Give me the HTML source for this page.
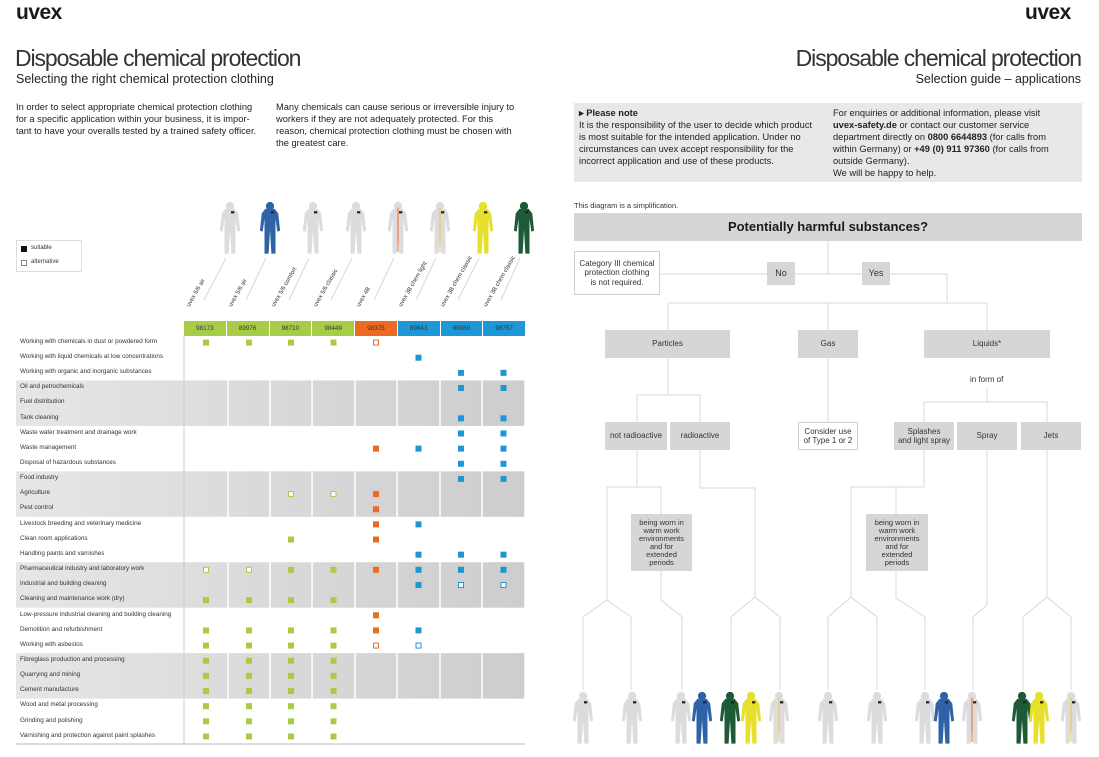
<!DOCTYPE html>
<html><head><meta charset="utf-8">
<style>
*{margin:0;padding:0;box-sizing:border-box}
body{width:1099px;height:757px;position:relative;background:#fff;font-family:"Liberation Sans",sans-serif;color:#222;overflow:hidden}
.a{position:absolute;white-space:nowrap}
.logo{font-weight:bold;font-size:21px;letter-spacing:-0.5px;color:#1a1a1a}
.t1{font-size:23px;font-weight:300;letter-spacing:-1.1px;color:#333}
.t2{font-size:12.5px;color:#222}
.p{font-size:9.3px;line-height:12px;color:#222}
.rl{font-size:6.3px;color:#333;left:20px}
.box{position:absolute;background:#d6d6d6;font-size:8px;color:#333;display:flex;align-items:center;justify-content:center;text-align:center;line-height:9.5px}
.wb{background:#fff;border:1px solid #cfcfcf}
</style></head><body>
<div class="a logo" style="left:16px;top:1px">uvex</div>
<div class="a logo" style="left:1025px;top:1px">uvex</div>
<div class="a t1" style="left:15px;top:45px">Disposable chemical protection</div>
<div class="a t2" style="left:16px;top:72px">Selecting the right chemical protection clothing</div>
<div class="a p" style="left:16px;top:101px">In order to select appropriate chemical protection clothing<br>for a specific application within your business, it is impor-<br>tant to have your overalls tested by a trained safety officer.</div>
<div class="a p" style="left:276px;top:101px">Many chemicals can cause serious or irreversible injury to<br>workers if they are not adequately protected. For this<br>reason, chemical protection clothing must be chosen with<br>the greatest care.</div>
<div class="a t1" style="right:18px;top:45px">Disposable chemical protection</div>
<div class="a t2" style="right:18px;top:72px">Selection guide – applications</div>
<div class="a" style="left:574px;top:103px;width:508px;height:79px;background:#e8e8e8"></div>
<div class="a p" style="left:579px;top:107px"><b>▸ Please note</b><br>It is the responsibility of the user to decide which product<br>is most suitable for the intended application. Under no<br>circumstances can uvex accept responsibility for the<br>incorrect application and use of these products.</div>
<div class="a p" style="left:833px;top:107px">For enquiries or additional information, please visit<br><b>uvex-safety.de</b> or contact our customer service<br>department directly on <b>0800 6644893</b> (for calls from<br>within Germany) or <b>+49 (0) 911 97360</b> (for calls from<br>outside Germany).<br>We will be happy to help.</div>
<div class="a" style="left:574px;top:201px;font-size:7.5px;color:#333">This diagram is a simplification.</div>

<svg class="a" style="left:0;top:0" width="1099" height="757" id="sv">
<defs>
<linearGradient id="gr" x1="0" x2="1"><stop offset="0" stop-color="#e6e6e6"/><stop offset="1" stop-color="#cdcdcd"/></linearGradient>
<symbol id="cv" viewBox="0 0 24 60"><circle cx="12" cy="6" r="4.5"/><path d="M7 9 L17 9 L21 14 L23 33 L20 34 L18 20 L18 58 L13.5 58 L12 32 L10.5 58 L6 58 L6 20 L4 34 L1 33 L3 14 Z"/></symbol>
</defs>
<g id="g"></g>
</svg>

<div class="a" style="left:16px;top:240px;width:66px;height:32px;border:1px solid #ddd;font-size:6px;color:#333">
<div style="position:absolute;left:4px;top:5px;width:6px;height:6px;background:#111"></div><div style="position:absolute;left:14px;top:4px">suitable</div>
<div style="position:absolute;left:4px;top:19px;width:6px;height:6px;border:1px solid #888"></div><div style="position:absolute;left:14px;top:18px">alternative</div>
</div>

<div class="a rl" style="top:338px">Working with chemicals in dust or powdered form</div>
<div class="a rl" style="top:353px">Working with liquid chemicals at low concentrations</div>
<div class="a rl" style="top:368px">Working with organic and inorganic substances</div>
<div class="a rl" style="top:383px">Oil and petrochemicals</div>
<div class="a rl" style="top:398px">Fuel distribution</div>
<div class="a rl" style="top:414px">Tank cleaning</div>
<div class="a rl" style="top:429px">Waste water treatment and drainage work</div>
<div class="a rl" style="top:444px">Waste management</div>
<div class="a rl" style="top:459px">Disposal of hazardous substances</div>
<div class="a rl" style="top:474px">Food industry</div>
<div class="a rl" style="top:489px">Agriculture</div>
<div class="a rl" style="top:504px">Pest control</div>
<div class="a rl" style="top:520px">Livestock breeding and veterinary medicine</div>
<div class="a rl" style="top:535px">Clean room applications</div>
<div class="a rl" style="top:550px">Handling paints and varnishes</div>
<div class="a rl" style="top:565px">Pharmaceutical industry and laboratory work</div>
<div class="a rl" style="top:580px">Industrial and building cleaning</div>
<div class="a rl" style="top:595px">Cleaning and maintenance work (dry)</div>
<div class="a rl" style="top:611px">Low-pressure industrial cleaning and building cleaning</div>
<div class="a rl" style="top:626px">Demolition and refurbishment</div>
<div class="a rl" style="top:641px">Working with asbestos</div>
<div class="a rl" style="top:656px">Fibreglass production and processing</div>
<div class="a rl" style="top:671px">Quarrying and mining</div>
<div class="a rl" style="top:686px">Cement manufacture</div>
<div class="a rl" style="top:701px">Wood and metal processing</div>
<div class="a rl" style="top:717px">Grinding and polishing</div>
<div class="a rl" style="top:732px">Varnishing and protection against paint splashes</div>

<div class="a" style="left:184px;top:321px;width:341px;height:15px;display:flex;font-size:6.3px;color:#333">
<div style="flex:1;background:#a8cc48;display:flex;align-items:center;justify-content:center;border-right:1px solid #fff">98173</div>
<div style="flex:1;background:#a8cc48;display:flex;align-items:center;justify-content:center;border-right:1px solid #fff">89976</div>
<div style="flex:1;background:#a8cc48;display:flex;align-items:center;justify-content:center;border-right:1px solid #fff">98710</div>
<div style="flex:1;background:#a8cc48;display:flex;align-items:center;justify-content:center;border-right:1px solid #fff">98449</div>
<div style="flex:1;background:#ec6a24;display:flex;align-items:center;justify-content:center;border-right:1px solid #fff">98375</div>
<div style="flex:1;background:#1d97d6;display:flex;align-items:center;justify-content:center;border-right:1px solid #fff">89843</div>
<div style="flex:1;background:#1d97d6;display:flex;align-items:center;justify-content:center;border-right:1px solid #fff">89880</div>
<div style="flex:1;background:#1d97d6;display:flex;align-items:center;justify-content:center">98757</div>
</div>

<div class="a" style="left:186px;top:305px;font-size:6px;color:#333;transform:rotate(-60deg);transform-origin:0 0">uvex 5/6 air</div>
<div class="a" style="left:228px;top:305px;font-size:6px;color:#333;transform:rotate(-60deg);transform-origin:0 0">uvex 5/6 air</div>
<div class="a" style="left:271px;top:305px;font-size:6px;color:#333;transform:rotate(-60deg);transform-origin:0 0">uvex 5/6 comfort</div>
<div class="a" style="left:313px;top:305px;font-size:6px;color:#333;transform:rotate(-60deg);transform-origin:0 0">uvex 5/6 classic</div>
<div class="a" style="left:356px;top:305px;font-size:6px;color:#333;transform:rotate(-60deg);transform-origin:0 0">uvex 4B</div>
<div class="a" style="left:398px;top:305px;font-size:6px;color:#333;transform:rotate(-60deg);transform-origin:0 0">uvex 3B chem light</div>
<div class="a" style="left:440px;top:305px;font-size:6px;color:#333;transform:rotate(-60deg);transform-origin:0 0">uvex 3B chem classic</div>
<div class="a" style="left:483px;top:305px;font-size:6px;color:#333;transform:rotate(-60deg);transform-origin:0 0">uvex 3B chem classic</div>

<div class="box" style="left:574px;top:213px;width:508px;height:28px;font-size:13px;font-weight:bold;color:#1a1a1a">Potentially harmful substances?</div>
<div class="box wb" style="left:574px;top:251px;width:86px;height:44px">Category III chemical<br>protection clothing<br>is not required.</div>
<div class="box" style="left:767px;top:262px;width:28px;height:23px;font-size:9px">No</div>
<div class="box" style="left:862px;top:262px;width:28px;height:23px;font-size:9px">Yes</div>
<div class="box" style="left:605px;top:330px;width:125px;height:28px">Particles</div>
<div class="box" style="left:798px;top:330px;width:60px;height:28px">Gas</div>
<div class="box" style="left:924px;top:330px;width:126px;height:28px">Liquids*</div>
<div class="a" style="left:970px;top:375px;font-size:8px;color:#333">in form of</div>
<div class="box" style="left:605px;top:422px;width:62px;height:28px">not radioactive</div>
<div class="box" style="left:670px;top:422px;width:60px;height:28px">radioactive</div>
<div class="box wb" style="left:798px;top:422px;width:60px;height:28px">Consider use<br>of Type 1 or 2</div>
<div class="box" style="left:894px;top:422px;width:60px;height:28px">Splashes<br>and light spray</div>
<div class="box" style="left:957px;top:422px;width:60px;height:28px">Spray</div>
<div class="box" style="left:1021px;top:422px;width:60px;height:28px">Jets</div>
<div class="box" style="left:631px;top:514px;width:61px;height:57px;line-height:8px;font-size:7.5px">being worn in<br>warm work<br>environments<br>and for<br>extended<br>periods</div>
<div class="box" style="left:866px;top:514px;width:62px;height:57px;line-height:8px;font-size:7.5px">being worn in<br>warm work<br>environments<br>and for<br>extended<br>periods</div>

<script>
(function(){
var g=document.getElementById('g'),h='';
function R(x,y,w,hh,f,s){h+='<rect x="'+x+'" y="'+y+'" width="'+w+'" height="'+hh+'" fill="'+f+'"'+(s?' stroke="'+s+'"':'')+'/>';}
function L(p){h+='<polyline points="'+p+'" fill="none" stroke="#d8d8d8" stroke-width="1"/>';}
var y0=335,pt=15.15;
for(var k=0;k<4;k++){R(16,y0+(3+6*k)*pt,509,3*pt,'url(#gr)');}
var cx=[184,228,270,312,355,397,440,482,525];
for(var i=1;i<9;i++)h+='<line x1="'+cx[i]+'" y1="336" x2="'+cx[i]+'" y2="744" stroke="#fff" stroke-width="1.5"/>';
h+='<line x1="184" y1="336" x2="184" y2="744" stroke="#ccc"/>';
h+='<line x1="16" y1="744" x2="525" y2="744" stroke="#bbb"/>';
var col=['#a8cc48','#a8cc48','#a8cc48','#a8cc48','#ec6a24','#1d97d6','#1d97d6','#1d97d6'];
var D=["ssssa","-----s","------ss","------ss","","------ss","------ss","----ssss","------ss","------ss","--aas","----s","----ss","--s-s","-----sss","aassssss","-----saa","ssss","----s","ssssss","ssssaa","ssss","ssss","ssss","ssss","ssss","ssss"];
for(var r=0;r<27;r++){var yc=y0+r*pt+pt/2;for(var c=0;c<8;c++){var v=D[r].charAt(c);if(!v||v=='-')continue;var x=(cx[c]+cx[c+1])/2;
if(v=='s')R(x-3,yc-3,6,6,col[c]);else R(x-2.5,yc-2.5,5,5,'#fff',col[c]);}}
function C(x,y,w,hh,f,st){h+='<use href="#cv" x="'+(x-w/2)+'" y="'+y+'" width="'+w+'" height="'+hh+'" fill="'+f+'"/>';if(st)h+='<line x1="'+x+'" y1="'+(y+hh*0.16)+'" x2="'+x+'" y2="'+(y+hh*0.9)+'" stroke="'+st+'" stroke-width="1"/>';h+='<rect x="'+(x+1)+'" y="'+(y+hh*0.22)+'" width="'+(w*0.15)+'" height="'+(w*0.1)+'" fill="#222"/>';}
var W='#dcdcde',B='#2f62a6',G='#1e5a36',Y='#e6e02a';
var tops=[[230,W],[270,B],[313,W],[356,W],[398,W,'#ec6a24'],[440,W,'#e6c84a'],[483,Y],[524,G]];
var lx=[190,232,275,317,360,402,444,487];
tops.forEach(function(t,i){L((t[0]-4)+','+258+' '+(lx[i]+14)+','+300);C(t[0],198,22,60,t[1],t[2]);});
var bot=[[583,W],[632,W],[681,W],[702,B],[730,G],[751,Y],[779,W,'#e6c84a'],[828,W],[877,W],[925,W],[944,B],[972,W,'#ec6a24'],[1022,G],[1039,Y],[1071,W,'#e6c84a']];
L('828,241 828,274');L('660,274 767,274');L('795,274 862,274');L('890,274 947,274 947,303');
L('668,303 987,303');L('668,303 668,330');L('828,303 828,330');L('987,303 987,330');
L('668,358 668,395');L('637,422 637,395 700,395 700,422');L('828,358 828,422');
L('987,388 987,402');L('924,422 924,402 1047,402 1047,422');
L('637,450 637,487');L('607,487 661,487');L('607,487 607,600');L('583,617 607,600 631,617');L('583,617 583,690');L('631,617 631,690');
L('661,487 661,514');L('661,571 661,600 682,617 682,690');
L('700,450 700,488 755,488 755,597');L('731,617 755,597 780,617');L('731,617 731,690');L('780,617 780,690');
L('924,450 924,487 851,487 851,597');L('828,617 851,597 877,617');L('828,617 828,690');L('877,617 877,690');
L('896,487 896,514');L('896,571 896,598 925,617 925,690');
L('987,450 987,605 973,617 973,690');
L('1047,450 1047,597');L('1023,617 1047,597 1071,617');L('1023,617 1023,690');L('1071,617 1071,690');
bot.forEach(function(t){C(t[0],688,22,60,t[1],t[2]);});
g.innerHTML=h;
})();
</script>
</body></html>
